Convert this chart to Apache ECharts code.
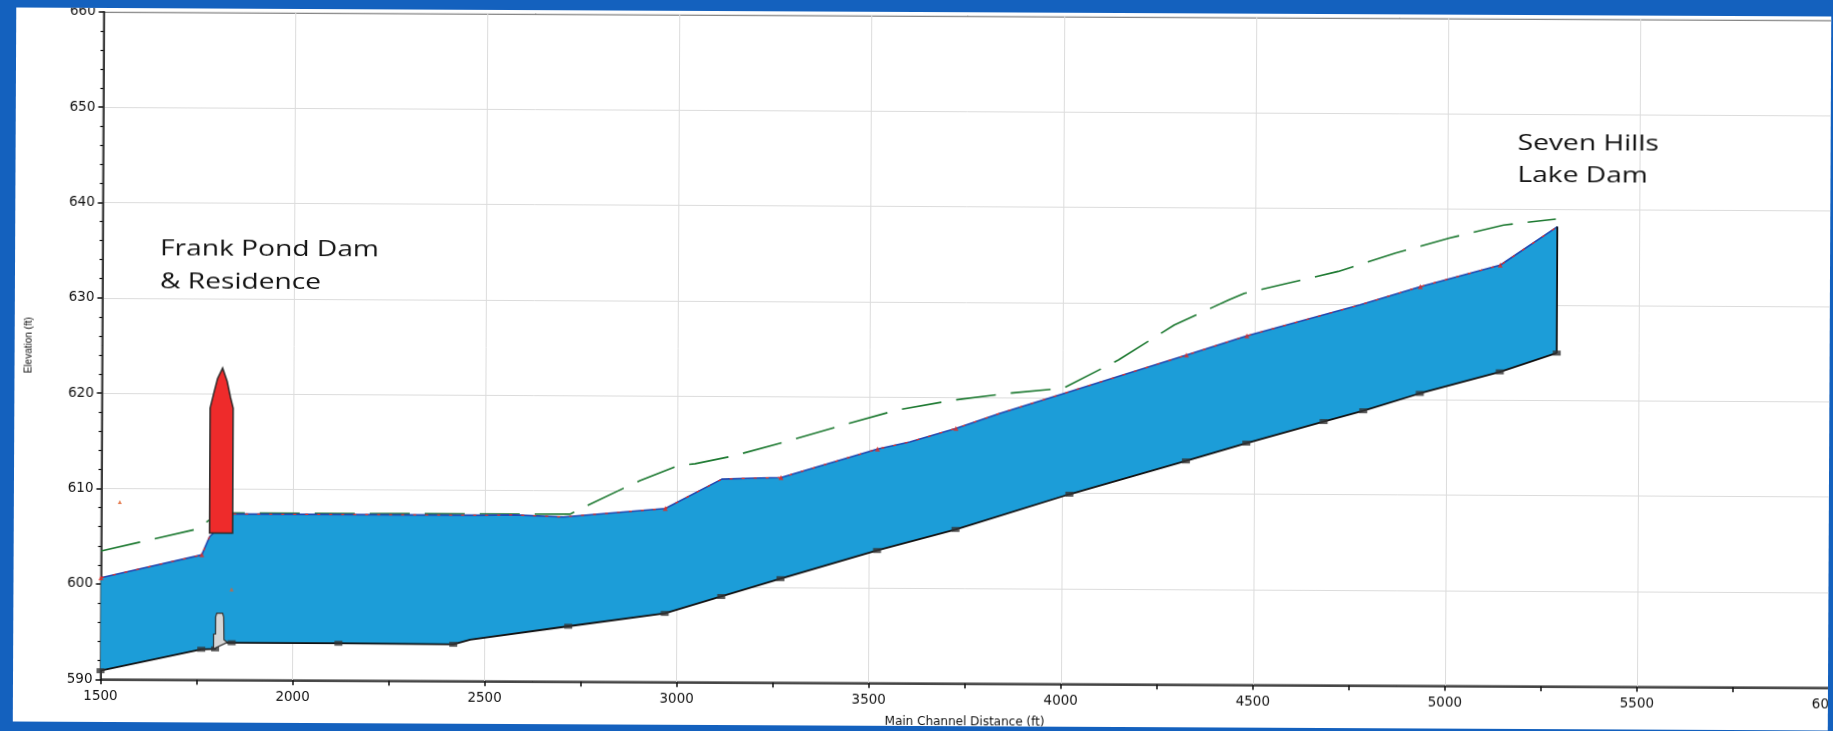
<!DOCTYPE html>
<html><head><meta charset="utf-8">
<script src="https://cdn.jsdelivr.net/npm/echarts@6/dist/echarts.min.js"></script>
<style>
html,body{margin:0;padding:0;width:1833px;height:731px;overflow:hidden;background:#1461BE;}
#panel{position:absolute;left:13px;top:8px;width:1815px;height:714px;background:#fff;overflow:hidden;transform:rotate(0.28deg);transform-origin:88px 671px;}
#chart{position:absolute;left:-13px;top:-8px;width:1833px;height:731px;}
</style></head><body>
<div id="panel"><div id="chart"></div></div>
<script>
// ---- axis settings ----
const xMin = 1500, xMax = 6000, xStep = 500;
const yMin = 590, yMax = 660, yStep = 10;
const xName = 'Main Channel Distance (ft)';
const yName = 'Elevation (ft)';

// ---- water surface (top of flow area) ----
const wsX = [1500, 1762, 1782, 1842, 2119, 2278, 2486, 2573, 2703, 2968, 3115, 3216, 3269, 3520, 3604, 3724, 3838, 4011, 4323, 4480, 4774, 4931, 5139, 5287];
const wsY = [600.65, 603.1, 605.0, 607.4, 607.4, 607.4, 607.4, 607.45, 607.25, 608.2, 611.3, 611.45, 611.5, 614.55, 615.3, 616.75, 618.35, 620.55, 624.55, 626.6, 629.9, 631.85, 634.15, 638.2];
const wsSection = [1,1,0,0,0,0,0,0,0,1,0,0,1,1,0,1,0,0,1,1,0,1,1,0];

// ---- channel bed ----
const bedX = [1500, 1762, 1798, 1806, 1841, 2119, 2418, 2462, 2717, 2968, 3115, 3269, 3520, 3724, 4020, 4323, 4480, 4681, 4784, 4931, 5139, 5287];
const bedY = [590.9, 593.2, 593.25, 593.9, 593.9, 593.9, 593.85, 594.35, 595.8, 597.2, 599.0, 600.9, 603.9, 606.15, 609.9, 613.45, 615.35, 617.65, 618.8, 620.65, 622.95, 624.95];
const bedSection = [1,1,1,0,1,1,1,0,1,1,1,1,1,1,1,1,1,1,1,1,1,1];

// ---- green dashed profile ----
const gX = [1500, 1749, 1779, 1843, 2720, 2759, 2862, 2902, 3002, 3045, 3145, 3288, 3431, 3571, 3715, 3858, 4002, 4146, 4291, 4432, 4473, 4577, 4717, 4866, 5006, 5147, 5283];
const gY = [603.45, 605.8, 606.7, 607.5, 607.55, 608.35, 610.35, 611.1, 612.7, 612.9, 613.75, 615.35, 617.05, 618.65, 619.7, 620.45, 621.0, 624.0, 627.7, 630.35, 631.05, 632.05, 633.4, 635.35, 636.95, 638.35, 639.0];

// ---- structures ----
const damX = [1782, 1782, 1791, 1801, 1814, 1826, 1835, 1842, 1842];
const damY = [605.4, 618.5, 620.0, 621.6, 622.7, 621.3, 619.6, 618.5, 605.4];
const pierX = [1794, 1794, 1799, 1799, 1802, 1817, 1820, 1821, 1828, 1828];
const pierY = [593.25, 594.8, 594.8, 596.6, 597.0, 597.0, 596.6, 594.2, 594.0, 593.9];
const wallX = [5287, 5287];
const wallY = [624.95, 638.2];
const extraX = [1548, 1840];
const extraY = [608.6, 599.5];

// ---- annotations ----
const labelLeft = ['Frank Pond Dam', '& Residence'];
const labelRight = ['Seven Hills', 'Lake Dam'];

const pairs = (xs, ys) => xs.map((x, i) => [x, ys[i]]);
const pick = (xs, ys, flags) => xs.map((x, i) => [x, ys[i]]).filter((p, i) => flags[i]);

function polyRender(pts, style) {
  return function (params, api) {
    if (params.dataIndex !== 0) return null;
    return { type: 'polygon', shape: { points: pts.map(p => api.coord(p)) }, style: style };
  };
}
const areaPts = pairs(wsX, wsY).concat(pairs(bedX, bedY).reverse());

const chart = echarts.init(document.getElementById('chart'), null, { renderer: 'canvas' });
const axisFont = { fontFamily: 'DejaVu Sans', fontSize: 13.5, color: '#111', formatter: v => String(v) };
const txt = (t, x, y) => ({
  type: 'text', x: x, y: y, scaleX: 1.28, z: 50,
  style: { text: t, x: 0, y: 0, font: '22px "Open Sans"', fill: '#121212', textVerticalAlign: 'middle' }
});
chart.setOption({
  animation: false,
  backgroundColor: 'transparent',
  grid: { left: 100.5, top: 11.7, width: 1728.5, height: 667.6, show: true, borderColor: '#111', borderWidth: 1.5, outerBoundsMode: 'none', containLabel: false },
  xAxis: {
    type: 'value', min: xMin, max: xMax, interval: xStep,
    name: xName, nameLocation: 'middle', nameGap: 33,
    nameTextStyle: { fontFamily: 'DejaVu Sans', fontSize: 12, color: '#111' },
    axisLine: { lineStyle: { color: '#111', width: 1.5 } },
    axisTick: { length: 5, lineStyle: { color: '#111', width: 1.5 } },
    minorTick: { show: true, splitNumber: 2, length: 5, lineStyle: { color: '#111', width: 1.5 } },
    axisLabel: Object.assign({ margin: 10, showMaxLabel: true, showMinLabel: true }, axisFont),
    splitLine: { show: true, lineStyle: { color: '#dcdcdc', width: 1 } }
  },
  yAxis: {
    type: 'value', min: yMin, max: yMax, interval: yStep,
    name: yName, nameLocation: 'middle', nameGap: 68, nameRotate: 90,
    nameTextStyle: { fontFamily: 'Liberation Sans', fontSize: 10, color: '#111' },
    axisLine: { lineStyle: { color: '#111', width: 1.5 } },
    axisTick: { length: 5, lineStyle: { color: '#111', width: 1.5 } },
    minorTick: { show: true, splitNumber: 5, length: 3, lineStyle: { color: '#111', width: 1.2 } },
    axisLabel: Object.assign({ margin: 8, showMaxLabel: true, showMinLabel: true }, axisFont),
    splitLine: { show: true, lineStyle: { color: '#dcdcdc', width: 1 } }
  },
  graphic: { elements: [
    txt(labelLeft[0], 158, 248.5),
    txt(labelLeft[1], 158, 281.5),
    txt(labelRight[0], 1515, 137),
    txt(labelRight[1], 1515, 168.5)
  ] },
  series: [
    { type: 'custom', name: 'Flow area', data: areaPts, z: 2,
      renderItem: polyRender(areaPts, { fill: '#1C9DD8' }) },
    { type: 'line', name: 'EG', data: pairs(gX, gY), z: 3, showSymbol: false, symbol: 'none',
      lineStyle: { color: '#1E7A32', width: 1.6, type: [40, 15] } },
    { type: 'line', name: 'WS', data: pairs(wsX, wsY), z: 4, symbol: 'none',
      lineStyle: { color: '#2348B0', width: 1.6 } },
    { type: 'line', name: 'WS red', data: pairs(wsX, wsY), z: 5, symbol: 'none',
      lineStyle: { color: '#E53027', width: 1.2, type: [3, 9] } },
    { type: 'scatter', name: 'WS sections', data: pick(wsX, wsY, wsSection), z: 6,
      symbol: 'triangle', symbolSize: 5, itemStyle: { color: '#E52A22' } },
    { type: 'line', name: 'Ground', data: pairs(bedX, bedY), z: 4, symbol: 'none',
      lineStyle: { color: '#111', width: 1.8 } },
    { type: 'scatter', name: 'Bed sections', data: pick(bedX, bedY, bedSection), z: 6,
      symbol: 'rect', symbolSize: [8, 5], itemStyle: { color: '#333' } },
    { type: 'line', name: 'Wall', data: pairs(wallX, wallY), z: 4, symbol: 'none',
      lineStyle: { color: '#111', width: 1.8 } },
    { type: 'custom', name: 'Dam', data: pairs(damX, damY), z: 8,
      renderItem: polyRender(pairs(damX, damY), { fill: '#EE2B2B', stroke: '#2a2a2a', lineWidth: 1.5 }) },
    { type: 'custom', name: 'Pier', data: pairs(pierX, pierY), z: 8,
      renderItem: polyRender(pairs(pierX, pierY), { fill: '#D6D6D6', stroke: '#333', lineWidth: 1.2 }) },
    { type: 'scatter', name: 'Marks', data: pairs(extraX, extraY), z: 7,
      symbol: 'triangle', symbolSize: 4, itemStyle: { color: '#E0602A' } }
  ]
});
</script>
</body></html>
